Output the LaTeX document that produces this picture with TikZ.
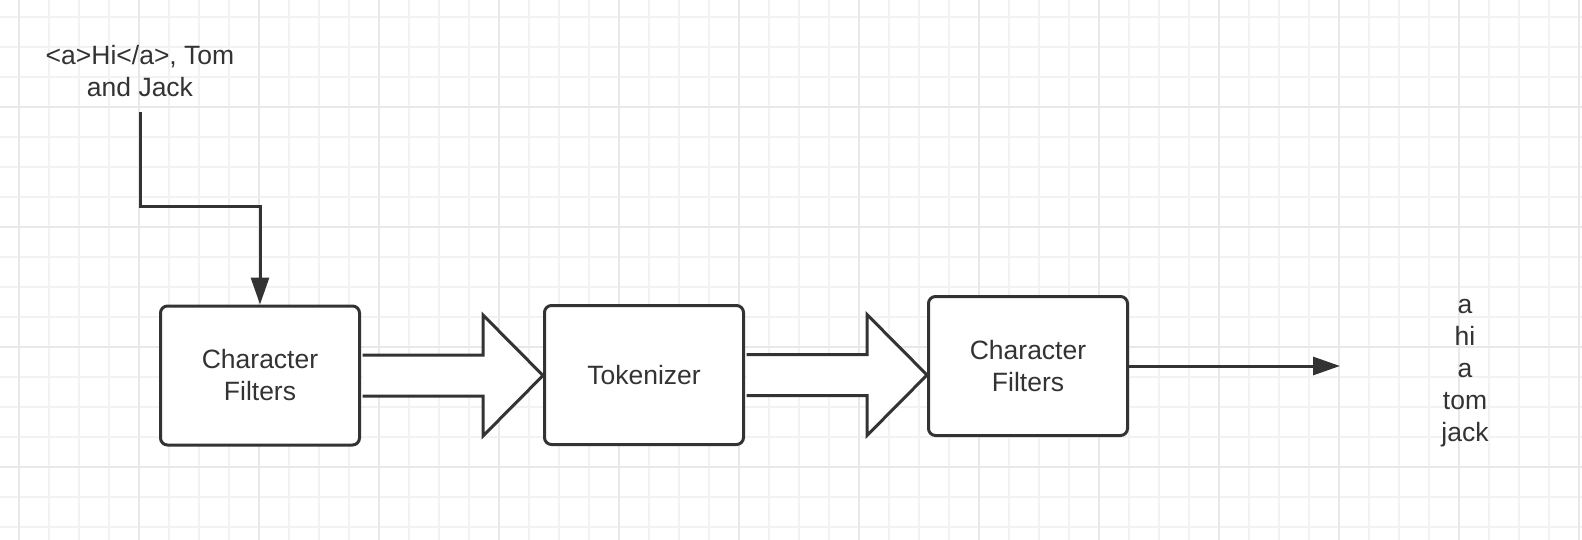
\documentclass[tikz,border=0pt]{standalone}
\usepackage{fontspec}
\setmainfont{Liberation Sans}
\usetikzlibrary{arrows.meta}
\definecolor{ink}{HTML}{333333}
\definecolor{gridminor}{HTML}{F2F2F2}
\definecolor{gridmajor}{HTML}{E8E8E8}
\tikzset{
  txt/.style={inner sep=0pt, align=center, text=ink, font=\fontsize{26.5}{32}\selectfont},
  box/.style={txt, draw=ink, line width=3pt, fill=white, rounded corners=7pt,
    minimum width=199pt, minimum height=139pt},
  conn/.style={draw=ink, line width=3pt, -{Triangle[length=27pt,width=18pt]}},
  blk/.style={draw=ink, line width=3pt, fill=white, line join=miter},
  gminor/.style={draw=gridminor, line width=1.5pt},
  gmajor/.style={draw=gridmajor, line width=1.5pt},
  blockarrow/.pic={\draw[blk] (1.5,-20.5) -- (122,-20.5) -- (122,-60.5) -- (182,0) -- (122,60.5) -- (122,20.5) -- (1.5,20.5);}
}
\begin{document}
\begin{tikzpicture}[x=1pt,y=-1pt]
\useasboundingbox (0,0) rectangle (1582,540);
\fill[white] (0,0) rectangle (1582,540);
% grid
\foreach \i in {0,...,52}{\pgfmathsetmacro\gx{19+30*\i}\draw[gminor] (\gx,0) -- (\gx,540);}
\foreach \j in {0,...,17}{\pgfmathsetmacro\gy{17+30*\j}\draw[gminor] (0,\gy) -- (1582,\gy);}
\foreach \i in {0,...,13}{\pgfmathsetmacro\gx{19+120*\i}\draw[gmajor] (\gx,0) -- (\gx,540);}
\foreach \j in {0,...,3}{\pgfmathsetmacro\gy{107+120*\j}\draw[gmajor] (0,\gy) -- (1582,\gy);}
% nodes
\node[txt] (in) at (140,71) {<a>Hi</a>, Tom\\and Jack};
\node[box] (cf1) at (260,375.5) {Character\\Filters};
\node[box] (tok) at (644,375) {Tokenizer};
\node[box] (cf3) at (1028,366) {Character\\Filters};
\node[txt] (out) at (1465,373) {a\\hi\\a\\tom\\jack};
\coordinate (outTip) at (1340,366);
% connectors
\draw[conn, shorten <=15pt] (in.south) -- ++(0,110) -| (cf1.north);
\pic at (cf1.east) {blockarrow};
\pic at (tok.east) {blockarrow};
\draw[conn] (cf3.east) -- (outTip);
\end{tikzpicture}
\end{document}
